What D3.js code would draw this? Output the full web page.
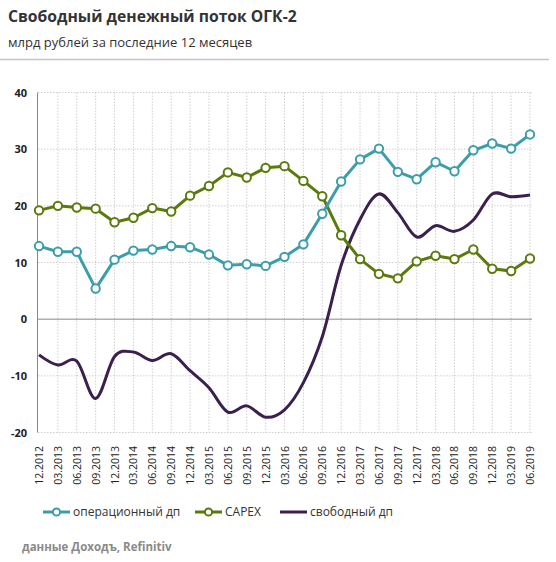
<!DOCTYPE html>
<html>
<head>
<meta charset="utf-8">
<script src="https://cdn.jsdelivr.net/npm/d3@7"></script>
<style>
  body { margin: 0; background: #fff; }
  text { font-family: "Open Sans", sans-serif; }
</style>
</head>
<body>
<script>
var W = 556, H = 562;

var quarters = ["12.2012", "03.2013", "06.2013", "09.2013", "12.2013", "03.2014", "06.2014",
  "09.2014", "12.2014", "03.2015", "06.2015", "09.2015", "12.2015", "03.2016", "06.2016",
  "09.2016", "12.2016", "03.2017", "06.2017", "09.2017", "12.2017", "03.2018", "06.2018",
  "09.2018", "12.2018", "03.2019", "06.2019"];
var operating = [12.9, 11.9, 11.9, 5.4, 10.5, 12.1, 12.3, 12.9, 12.7, 11.4, 9.5, 9.7, 9.4,
  11.0, 13.2, 18.6, 24.3, 28.2, 30.1, 26.0, 24.7, 27.7, 26.1, 29.8, 31.0, 30.1, 32.6];
var capex = [19.2, 20.0, 19.7, 19.5, 17.1, 17.9, 19.6, 19.0, 21.8, 23.5, 25.9, 25.0, 26.7,
  27.0, 24.4, 21.7, 14.8, 10.6, 8.0, 7.2, 10.2, 11.2, 10.6, 12.3, 8.9, 8.5, 10.7];
var freeCf = [-6.3, -8.1, -7.4, -14.0, -6.6, -5.8, -7.3, -6.1, -9.1, -12.1, -16.4, -15.3, -17.3,
  -16.0, -11.2, -3.1, 9.5, 17.6, 22.1, 18.8, 14.5, 16.5, 15.5, 17.5, 22.1, 21.6, 21.9];
var yTicks = [-20, -10, 0, 10, 20, 30, 40];

var cTeal = "#3b9eaa", cGreen = "#5b7a0c", cPurple = "#3b1f4f";

var svg = d3.select("body").append("svg")
  .attr("width", W)
  .attr("height", H);

// title
svg.append("text")
  .attr("x", 8).attr("y", 22)
  .attr("font-size", 15.7).attr("font-weight", "bold")
  .attr("fill", "#333")
  .text("Свободный денежный поток ОГК-2");
svg.append("text")
  .attr("x", 8).attr("y", 47)
  .attr("font-size", 13).attr("fill", "#333")
  .text("млрд рублей за последние 12 месяцев");
svg.append("line")
  .attr("x1", 0).attr("x2", 549)
  .attr("y1", 59.5).attr("y2", 59.5)
  .attr("stroke", "#c4c4c4").attr("stroke-width", 1.5);

var x = d3.scalePoint().domain(quarters).range([39, 530]);
var y = d3.scaleLinear().domain([-20, 40]).range([432.5, 92.5]);

// grid
svg.append("g").selectAll("line")
  .data(yTicks.filter(function(d) { return d !== 0; }))
  .join("line")
  .attr("x1", 38).attr("x2", 532)
  .attr("y1", function(d) { return y(d); })
  .attr("y2", function(d) { return y(d); })
  .attr("stroke", "#d0d0d0").attr("stroke-dasharray", "1.5,1.5");
svg.append("g").selectAll("line")
  .data(quarters.slice(1))
  .join("line")
  .attr("x1", function(d) { return x(d); })
  .attr("x2", function(d) { return x(d); })
  .attr("y1", y(40)).attr("y2", y(-20))
  .attr("stroke", "#d0d0d0").attr("stroke-dasharray", "1.5,1.5");

// axes
svg.append("line")
  .attr("x1", 37.5).attr("x2", 37.5)
  .attr("y1", y(40)).attr("y2", y(-20))
  .attr("stroke", "#888");
svg.append("line")
  .attr("x1", 37.5).attr("x2", 532)
  .attr("y1", y(0)).attr("y2", y(0))
  .attr("stroke", "#888");

svg.append("g").selectAll("text")
  .data(yTicks)
  .join("text")
  .attr("x", 27).attr("y", function(d) { return y(d) + 4; })
  .attr("text-anchor", "end")
  .attr("font-size", 11).attr("font-weight", "bold")
  .attr("fill", "#222")
  .text(function(d) { return d; });

svg.append("g").selectAll("text")
  .data(quarters)
  .join("text")
  .attr("transform", function(d) { return "translate(" + (x(d) + 4) + ",446) rotate(-90)"; })
  .attr("text-anchor", "end")
  .attr("font-size", 10.5)
  .attr("fill", "#222")
  .text(function(d) { return d; });

// lines
function drawSeries(vals, color, curve, markers) {
  var line = d3.line()
    .x(function(d, i) { return x(quarters[i]); })
    .y(function(d) { return y(d); })
    .curve(curve);
  svg.append("path")
    .datum(vals)
    .attr("d", line)
    .attr("fill", "none")
    .attr("stroke", color)
    .attr("stroke-width", 3)
    .attr("stroke-linejoin", "round");
  if (markers) {
    svg.append("g").selectAll("circle")
      .data(vals)
      .join("circle")
      .attr("cx", function(d, i) { return x(quarters[i]); })
      .attr("cy", function(d) { return y(d); })
      .attr("r", 4.2)
      .attr("fill", "#fff")
      .attr("stroke", color)
      .attr("stroke-width", 2);
  }
}
drawSeries(freeCf, cPurple, d3.curveCardinal.tension(0), false);
drawSeries(capex, cGreen, d3.curveLinear, true);
drawSeries(operating, cTeal, d3.curveLinear, true);

// legend
var legend = [
  { name: "операционный дп", color: cTeal, marker: true, x: 43 },
  { name: "CAPEX", color: cGreen, marker: true, x: 195 },
  { name: "свободный дп", color: cPurple, marker: false, x: 280 }
];
var lg = svg.append("g").selectAll("g").data(legend).join("g")
  .attr("transform", function(d) { return "translate(" + d.x + ",512)"; });
lg.append("line")
  .attr("x1", 0).attr("x2", 27)
  .attr("stroke", function(d) { return d.color; })
  .attr("stroke-width", 3);
lg.filter(function(d) { return d.marker; })
  .append("circle")
  .attr("cx", 13.5).attr("r", 3.6)
  .attr("fill", "#fff")
  .attr("stroke", function(d) { return d.color; })
  .attr("stroke-width", 2);
lg.append("text")
  .attr("x", 30).attr("y", 4)
  .attr("font-size", 12)
  .attr("fill", "#333")
  .text(function(d) { return d.name; });

svg.append("text")
  .attr("x", 22).attr("y", 551)
  .attr("font-size", 11.5).attr("font-weight", "bold")
  .attr("fill", "#8a8a8a")
  .text("данные  Доходъ, Refinitiv");
</script>
</body>
</html>
